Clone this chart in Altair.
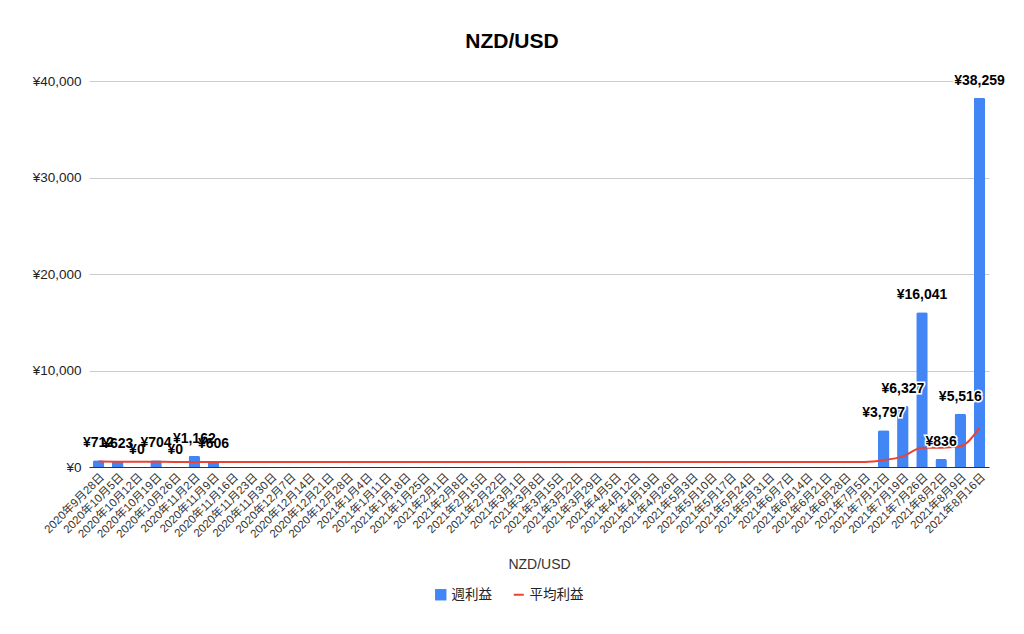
import altair as alt
import pandas as pd

weeks = [
    "2020年9月28日", "2020年10月5日", "2020年10月12日", "2020年10月19日", "2020年10月26日",
    "2020年11月2日", "2020年11月9日", "2020年11月16日", "2020年11月23日", "2020年11月30日",
    "2020年12月7日", "2020年12月14日", "2020年12月21日", "2020年12月28日",
    "2021年1月4日", "2021年1月11日", "2021年1月18日", "2021年1月25日",
    "2021年2月1日", "2021年2月8日", "2021年2月15日", "2021年2月22日",
    "2021年3月1日", "2021年3月8日", "2021年3月15日", "2021年3月22日", "2021年3月29日",
    "2021年4月5日", "2021年4月12日", "2021年4月19日", "2021年4月26日",
    "2021年5月3日", "2021年5月10日", "2021年5月17日", "2021年5月24日", "2021年5月31日",
    "2021年6月7日", "2021年6月14日", "2021年6月21日", "2021年6月28日",
    "2021年7月5日", "2021年7月12日", "2021年7月19日", "2021年7月26日",
    "2021年8月2日", "2021年8月9日", "2021年8月16日",
]

# 週利益 (空欄の週は None)
weekly_profit = [
    712, 623, 0, 704, 0, 1162, 606,
    None, None, None, None, None, None, None,
    None, None, None, None, None, None, None, None, None, None,
    None, None, None, None, None, None, None, None, None, None,
    None, None, None, None, None, None, None,
    3797, 6327, 16041, 836, 5516, 38259,
]

# 平均利益
avg_profit = [
    560, 550, 540, 535, 530, 530, 530,
    530, 530, 530, 530, 530, 530, 530,
    530, 530, 530, 530, 530, 530, 530, 530, 530, 530,
    530, 530, 530, 530, 530, 530, 530, 530, 530, 530,
    530, 530, 530, 530, 530, 530, 530,
    700, 1100, 2000, 2000, 2150, 4050,
]

FONT = "Liberation Sans, Noto Sans CJK JP"

df = pd.DataFrame({
    "week": weeks,
    "profit": weekly_profit,
    "avg": avg_profit,
    "s": "週利益",
    "t": "平均利益",
})

base = alt.Chart(df).encode(
    x=alt.X("week:N", sort=weeks, title="NZD/USD",
            scale=alt.Scale(paddingInner=0.4, paddingOuter=0.2),
            axis=alt.Axis(labelAngle=-45, labelFontSize=11.5, labelColor="#333333",
                          ticks=False, domainColor="#333333", labelPadding=4,
                          titleFontSize=14, titleFontWeight="normal", titleColor="#333333",
                          titlePadding=18))
)

bars = base.mark_bar(cornerRadiusTopLeft=2, cornerRadiusTopRight=2).encode(
    y=alt.Y("profit:Q", title=None, scale=alt.Scale(domain=[0, 40000]),
            axis=alt.Axis(values=[0, 10000, 20000, 30000, 40000],
                          labelExpr='"¥" + format(datum.value, ",")',
                          labelFontSize=13.5, labelColor="#222222", labelPadding=8,
                          ticks=False, domain=False, gridColor="#cccccc")),
    color=alt.Color("s:N", scale=alt.Scale(domain=["週利益"], range=["#4285F4"]),
                    legend=alt.Legend(title=None, orient="none", legendX=345, legendY=507,
                                      symbolType="square", labelFontSize=13.5,
                                      symbolSize=130, labelColor="#222222")),
)

labels = base.transform_filter("isValid(datum.profit)").transform_calculate(
    label='"¥" + format(datum.profit, ",")'
).encode(y=alt.Y("profit:Q"), text="label:N")

halo = labels.mark_text(baseline="bottom", dy=-10, fontSize=14, fontWeight="bold",
                        stroke="white", strokeWidth=3, color="white")
text = labels.mark_text(baseline="bottom", dy=-10, fontSize=14, fontWeight="bold",
                        color="#000000")

line = base.mark_line(strokeWidth=2, interpolate="monotone").encode(
    y=alt.Y("avg:Q"),
    stroke=alt.Stroke("t:N", scale=alt.Scale(domain=["平均利益"], range=["#EA4335"]),
                      legend=alt.Legend(title=None, orient="none", legendX=423, legendY=507,
                                        symbolType="stroke", labelFontSize=13.5,
                                        symbolStrokeWidth=2, labelColor="#222222")),
)

chart = alt.layer(bars, line, halo, text).resolve_scale(y="shared").properties(
    width=900,
    height=386,
    autosize="none",
    padding={"left": 81, "top": 73, "right": 27, "bottom": 159},
    title=alt.TitleParams("NZD/USD", fontSize=21, fontWeight="bold", color="#000000",
                          anchor="middle", dx=-27, offset=22),
).configure(font=FONT).configure_view(stroke=None)

chart.save("out.html", embed_options={"renderer": "svg", "actions": False})
